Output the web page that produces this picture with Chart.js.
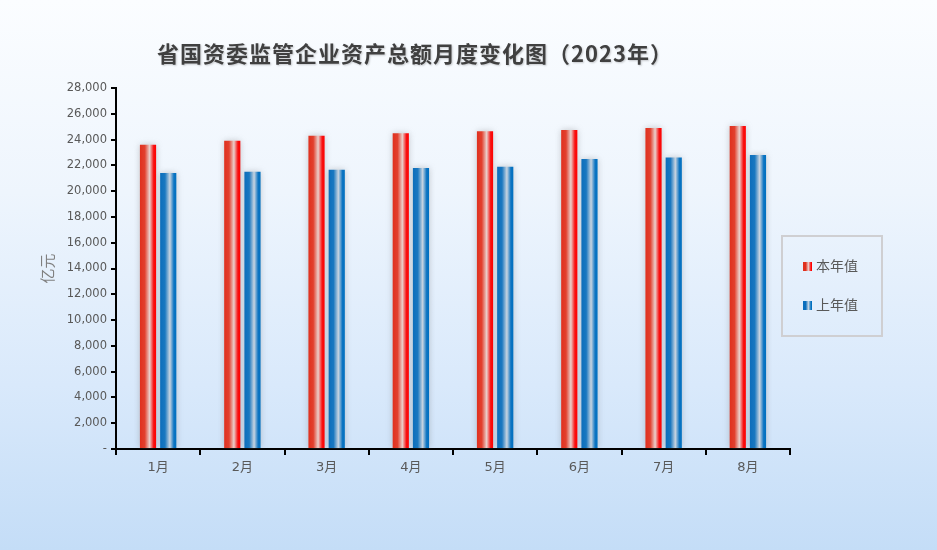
<!DOCTYPE html>
<html>
<head>
<meta charset="utf-8">
<script src="https://cdn.jsdelivr.net/npm/chart.js@4.4.0/dist/chart.umd.min.js"></script>
<style>
  html, body { margin: 0; padding: 0; }
  body {
    width: 937px; height: 550px; overflow: hidden; position: relative;
    background: linear-gradient(to bottom, #fbfdff 0%, #eef5fd 35%, #d9e9fb 70%, #c4ddf7 100%);
    font-family: "DejaVu Sans", "Noto Sans CJK SC", sans-serif;
  }
  #wrap { position: absolute; left: 0; top: 0; width: 937px; height: 550px; }
  #title {
    position: absolute; left: 415px; top: 36px; transform: translateX(-50%);
    white-space: nowrap; font-size: 22px; font-weight: bold; letter-spacing: 1px;
    color: #404040; font-family: "Noto Sans CJK SC", sans-serif;
    text-shadow: 1px 1px 2px rgba(0,0,0,0.2);
  }
  #legend {
    position: absolute; left: 781px; top: 235px; width: 98px; height: 98px;
    border: 2px solid #cfcfd2; box-sizing: content-box;
  }
  .item { position: absolute; left: 20px; font-size: 14px; color: #595959;
    font-family: "Noto Sans CJK SC", sans-serif; line-height: 16px; }
  .item span.sw { display: inline-block; width: 9px; height: 9px; margin-right: 4px; vertical-align: 0px; }
  .red { background: linear-gradient(to right, #e0301e 30%, #ead0cc 60%, #ff0000 90%); }
  .blue { background: linear-gradient(to right, #0a6ebd 30%, #c8d4e0 60%, #0070c0 90%); }
</style>
</head>
<body>
<div id="wrap"><canvas id="c" width="937" height="550"></canvas></div>
<div id="title">省国资委监管企业资产总额月度变化图（2023年）</div>
<div id="legend">
  <div class="item" style="top:20px"><span class="sw red"></span>本年值</div>
  <div class="item" style="top:59px"><span class="sw blue"></span>上年值</div>
</div>
<script>
const months = ["1月", "2月", "3月", "4月", "5月", "6月", "7月", "8月"];
const thisYear = [23600, 23900, 24300, 24500, 24650, 24750, 24900, 25050];
const lastYear = [21400, 21500, 21650, 21800, 21900, 22500, 22600, 22800];
const seriesNames = ["本年值", "上年值"];

// colour stops across one bar, left to right
const gradStops = [
  [[0, "#e0301e"], [0.3, "#e2402e"], [0.6, "#ead0cc"], [0.85, "#f81010"], [1, "#ff0000"]],
  [[0, "#0a6ebd"], [0.3, "#1a78c0"], [0.6, "#c8d4e0"], [0.85, "#0c74c2"], [1, "#0070c0"]]
];

// horizontal gradient on every bar + soft glow
const barStyle = {
  id: "barStyle",
  beforeDatasetsDraw(chart) {
    const ctx = chart.ctx;
    chart.data.datasets.forEach((ds, di) => {
      const meta = chart.getDatasetMeta(di);
      meta.data.forEach(el => {
        const x0 = el.x - el.width / 2, x1 = el.x + el.width / 2;
        const g = ctx.createLinearGradient(x0, 0, x1, 0);
        gradStops[di].forEach(s => g.addColorStop(s[0], s[1]));
        el.options = Object.assign({}, el.options, { backgroundColor: g });
      });
    });
    ctx.save();
    ctx.shadowColor = "rgba(110,110,110,0.35)";
    ctx.shadowBlur = 6;
  },
  afterDatasetsDraw(chart) {
    chart.ctx.restore();
  }
};

const ctx = document.getElementById("c").getContext("2d");
new Chart(ctx, {
  type: "bar",
  data: {
    labels: months,
    datasets: [
      { label: seriesNames[0], data: thisYear, backgroundColor: "#e0301e" },
      { label: seriesNames[1], data: lastYear, backgroundColor: "#0a6ebd" }
    ]
  },
  options: {
    responsive: false,
    animation: false,
    categoryPercentage: 0.48,
    barPercentage: 0.8,
    layout: { padding: { left: 38, right: 147, top: 88, bottom: 72 } },
    plugins: {
      legend: { display: false },
      title: { display: false },
      tooltip: { enabled: false }
    },
    scales: {
      x: {
        grid: { drawOnChartArea: false, offset: true, color: "#000", lineWidth: 2, tickLength: 6 },
        border: { color: "#000", width: 2 },
        ticks: { color: "#595959", font: { size: 13, family: "DejaVu Sans, Noto Sans CJK SC" }, padding: 5 },
        afterFit(s) { s.height = 29; }
      },
      y: {
        min: 0, max: 28000,
        ticks: {
          stepSize: 2000,
          color: "#595959",
          font: { size: 11.5, family: "DejaVu Sans" },
          padding: 4,
          callback: v => v === 0 ? "-" : v.toLocaleString("en-US")
        },
        grid: { drawOnChartArea: false, color: "#000", lineWidth: 2, tickLength: 5 },
        border: { color: "#000", width: 2 },
        title: {
          display: true, text: "亿元", color: "#808080",
          font: { size: 15, family: "Noto Sans CJK SC" }, padding: 0
        },
        afterFit(s) { s.width = 78; }
      }
    }
  },
  plugins: [barStyle]
});
</script>
</body>
</html>
